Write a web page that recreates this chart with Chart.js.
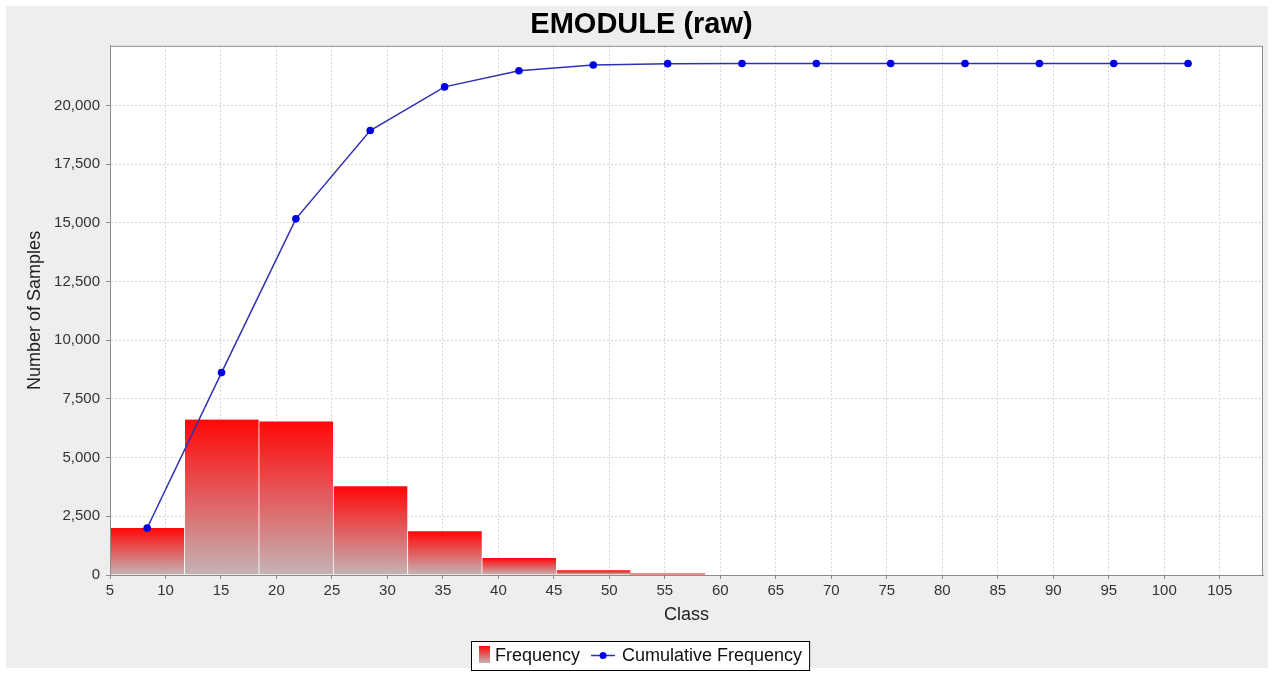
<!DOCTYPE html>
<html>
<head>
<meta charset="utf-8">
<title>EMODULE (raw)</title>
<script src="https://cdn.jsdelivr.net/npm/chart.js"></script>
<style>
html,body{margin:0;padding:0;background:#fff;}
#wrap{width:1274px;height:673px;}
</style>
</head>
<body>
<div id="wrap"><canvas id="chartHisto" width="1274" height="673"></canvas></div>
<script>
// === DATI ===
const classMid=[8.35,15.05,21.75,28.45,35.15,41.85,48.55,55.25,61.95,68.65,75.35,82.05,88.75,95.45,102.15];
const frequency=[2000,6620,6540,3780,1860,720,200,55,0,0,0,0,0,0,0];
const cumulative=[2000,8620,15170,18930,20790,21480,21720,21780,21785,21785,21785,21785,21785,21785,21785];
const xTicks=[5,10,15,20,25,30,35,40,45,50,55,60,65,70,75,80,85,90,95,100,105];
const yTicks=[0,2500,5000,7500,10000,12500,15000,17500,20000];

// === STILI ===
const FONT="'Liberation Sans', Arial, sans-serif";
const lineColor="#3030b4";
const dotColor="#0000e6";
const gridCol="#d6d6d6";
const frameCol="#8c8c8c";

function barGradient(ctx,top,bottom){
  const g=ctx.createLinearGradient(0,top,0,bottom);
  g.addColorStop(0,"#ff0808");
  g.addColorStop(1,"#c4b4b6");
  return g;
}

// === SFONDO + CORNICE ===
const framePlugin={id:"frame",
  beforeDraw(c){
    const ctx=c.ctx,a=c.chartArea;
    ctx.save();
    ctx.fillStyle="#eeeeee";ctx.fillRect(6,6,1262,662);
    ctx.fillStyle="#fff";ctx.fillRect(a.left,a.top,a.right-a.left,a.bottom-a.top);
    ctx.restore();
  },
  afterDraw(c){
    const ctx=c.ctx,a=c.chartArea;
    ctx.save();
    ctx.strokeStyle=frameCol;ctx.lineWidth=1;
    ctx.strokeRect(a.left+0.5,a.top+0.5,a.right-a.left-1,a.bottom-a.top);
    ctx.restore();
  }
};

// === LEGENDA CON BORDO ===
const legendPlugin={id:"boxLegend",
  afterDraw(c){
    const ctx=c.ctx;
    const l1=c.data.datasets[1].label,l2=c.data.datasets[0].label;
    ctx.save();
    ctx.font="18px "+FONT;
    const w1=ctx.measureText(l1).width,w2=ctx.measureText(l2).width;
    const total=8+11+5+w1+11+24+7+w2+7;
    const x0=Math.round(640-total/2),y0=641,h=29,cy=y0+h/2;
    ctx.fillStyle="#fff";ctx.fillRect(x0,y0,total,h);
    ctx.strokeStyle="#000";ctx.lineWidth=1;ctx.strokeRect(x0+0.5,y0+0.5,total,h);
    let x=x0+8;
    ctx.fillStyle=barGradient(ctx,y0+5,y0+22);ctx.fillRect(x,y0+5,11,17);
    x+=11+5;
    ctx.fillStyle="#111";ctx.textBaseline="middle";ctx.fillText(l1,x,cy+1);
    x+=w1+11;
    ctx.strokeStyle=lineColor;ctx.lineWidth=1.5;
    ctx.beginPath();ctx.moveTo(x,cy);ctx.lineTo(x+24,cy);ctx.stroke();
    ctx.fillStyle=dotColor;ctx.beginPath();ctx.arc(x+12,cy,3.5,0,Math.PI*2);ctx.fill();
    x+=24+7;
    ctx.fillStyle="#111";ctx.fillText(l2,x,cy+1);
    ctx.restore();
  }
};

// === GRAFICO ===
const ctx=document.getElementById("chartHisto");
const chart=new Chart(ctx,{
  type:"bar",
  data:{
    datasets:[
      {type:"line",label:"Cumulative Frequency",order:0,
        data:classMid.map((x,i)=>({x:x,y:cumulative[i]})),
        borderColor:lineColor,borderWidth:1.5,tension:0,fill:false,
        pointRadius:3.8,pointBackgroundColor:dotColor,pointBorderWidth:0},
      {type:"bar",label:"Frequency",order:1,
        data:classMid.map((x,i)=>({x:x,y:frequency[i]})),
        // larghezza classe = distanza tra due centri, in pixel della scala x
        barThickness:(cx)=>{
          const xs=cx.chart.scales.x;
          const w=xs?xs.getPixelForValue(classMid[1])-xs.getPixelForValue(classMid[0]):NaN;
          return Number.isFinite(w)&&w>0?w:undefined;
        },
        backgroundColor:(cx)=>{
          const ys=cx.chart.scales.y;
          if(!ys||!cx.raw)return "#f00";
          if(!cx.raw.y)return "rgba(0,0,0,0)";
          const top=ys.getPixelForValue(cx.raw.y),bot=ys.getPixelForValue(0);
          if(!Number.isFinite(top)||!Number.isFinite(bot))return "#f00";
          return barGradient(cx.chart.ctx,top,Math.max(bot,top+1));
        },
        borderColor:"rgba(255,255,255,0.55)",
        borderWidth:(cx)=>cx.raw&&cx.raw.y>100?{left:1,right:0,top:0,bottom:0}:0,
        borderSkipped:false}
    ]
  },
  options:{
    responsive:false,animation:false,devicePixelRatio:1,
    layout:{padding:{top:0,left:20,right:11,bottom:43}},
    plugins:{
      legend:{display:false},
      tooltip:{enabled:false},
      title:{display:true,text:"EMODULE (raw)",color:"#000",
        font:{family:FONT,size:29,weight:"bold"},padding:{top:8,bottom:3}}
    },
    scales:{
      x:{type:"linear",min:5,max:108.9,offset:false,
        afterBuildTicks:s=>{s.ticks=xTicks.map(v=>({value:v}));},
        afterFit:s=>{s.height=55;},
        ticks:{color:"#333",font:{family:FONT,size:15},padding:3,maxRotation:0,autoSkip:false},
        grid:{offset:false,color:gridCol,tickLength:4,tickColor:frameCol,tickBorderDash:[]},
        border:{display:true,color:frameCol,dash:[2,2]},
        title:{display:true,text:"Class",color:"#222",font:{family:FONT,size:18}}
      },
      y:{min:0,max:22540,
        afterBuildTicks:s=>{s.ticks=yTicks.map(v=>({value:v}));},
        afterFit:s=>{s.width=90;},
        ticks:{color:"#333",font:{family:FONT,size:15},padding:6,callback:v=>v.toLocaleString("en-US")},
        grid:{color:gridCol,tickLength:4,tickColor:frameCol,tickBorderDash:[]},
        border:{display:true,color:frameCol,dash:[2,2]},
        title:{display:true,text:"Number of Samples",color:"#222",font:{family:FONT,size:18}}
      }
    }
  },
  plugins:[framePlugin,legendPlugin]
});
</script>
</body>
</html>
